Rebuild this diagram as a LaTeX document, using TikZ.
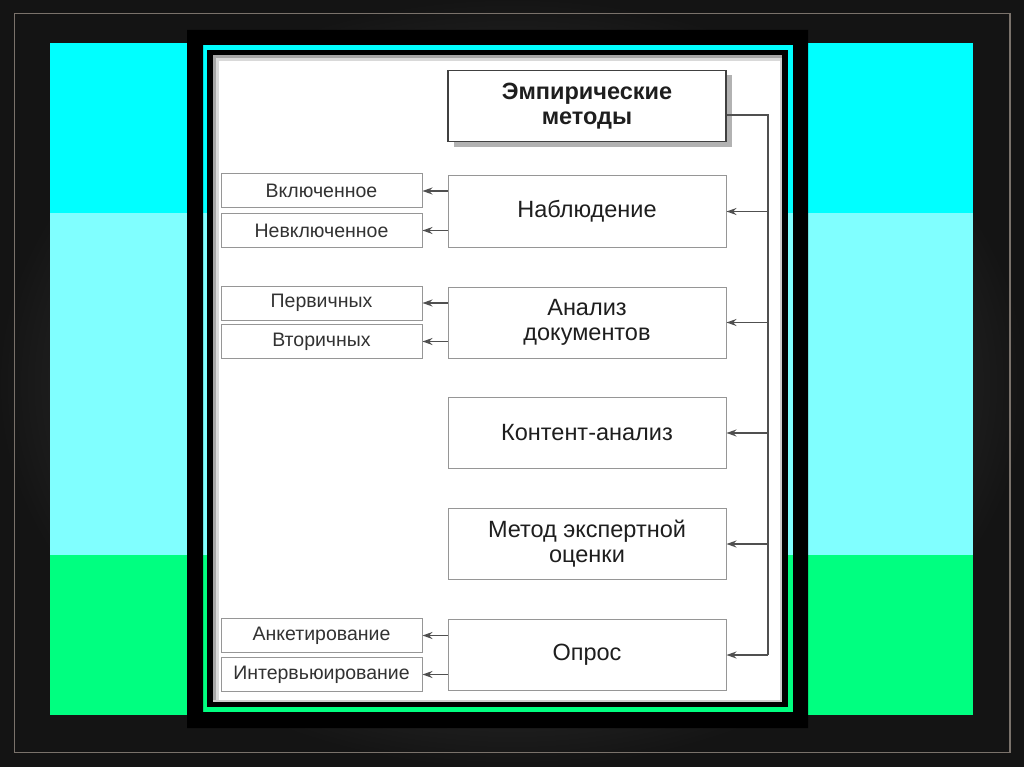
\documentclass[tikz,border=0pt]{standalone}
\usepackage{fontspec}
\setmainfont{Liberation Sans}
\usetikzlibrary{arrows.meta}
\definecolor{bandA}{RGB}{0,255,255}
\definecolor{bandB}{RGB}{128,255,255}
\definecolor{bandC}{RGB}{0,255,128}
\definecolor{frameln}{RGB}{122,114,107}
\definecolor{boxln}{RGB}{150,150,150}
\definecolor{conn}{RGB}{80,80,80}
\definecolor{txt}{RGB}{30,30,30}
\definecolor{subtxt}{RGB}{50,50,50}
\begin{document}
\begin{tikzpicture}[x=1pt,y=-1pt,
  mainbox/.style={draw=boxln,line width=1pt,fill=white,minimum width=278pt,minimum height=71pt,
    inner sep=0pt,align=center,text=txt,font=\fontsize{23.5}{25}\selectfont},
  topbox/.style={mainbox,draw=black!75,line width=1.2pt,font=\fontsize{23.5}{25}\selectfont\bfseries},
  subbox/.style={draw=boxln,line width=1pt,fill=white,minimum width=201pt,minimum height=34pt,
    inner sep=0pt,align=center,text=subtxt,font=\fontsize{19.5}{21}\selectfont},
  conline/.style={draw=conn,line width=1.4pt},
  arr/.style={conline,-{Stealth[length=10pt,width=7pt]}}]
\useasboundingbox (0,0) rectangle (1024,767);
% background
\shade[inner color=black!62,outer color=black!92] (0,0) rectangle (1024,767);
\draw[frameln,line width=1.6pt] (14.5,13.5) rectangle (1010,752.5);
% colour bands
\fill[bandA] (50,43) rectangle (973,213);
\fill[bandB] (50,213) rectangle (973,555);
\fill[bandC] (50,555) rectangle (973,715);
% black panel with transparent strip
\fill[black,even odd rule] (187,30) rectangle (808,728) (203,45) rectangle (793,712);
\fill[black] (207,50) rectangle (788,707);
\fill[white] (213,55) rectangle (782,702);
\fill[black!35] (213,55) rectangle (216,702);
\fill[black!35] (213,55) rectangle (782,58);
\fill[black!15] (216,58) rectangle (219,702);
\fill[black!15] (216,58) rectangle (782,61);
\fill[black!20] (780,58) rectangle (782,702);
\fill[black!20] (213,700) rectangle (782,702);
% shadow of top box
\fill[black!30] (454,75) rectangle (732,147);
% main boxes
\node[topbox] (emp) at (587,106) {Эмпирические\\методы};
\node[mainbox] (nab) at (587,211.5) {Наблюдение};
\node[mainbox] (doc) at (587,322.5) {Анализ\\документов};
\node[mainbox] (kon) at (587,433) {Контент-анализ};
\node[mainbox] (eks) at (587,544) {Метод экспертной\\оценки};
\node[mainbox] (opr) at (587,655) {Опрос};
% sub boxes
\node[subbox] (vkl) at (321.5,191) {Включенное};
\node[subbox] (nvk) at (321.5,230.5) {Невключенное};
\node[subbox] (per) at (321.5,303) {Первичных};
\node[subbox] (vto) at (321.5,341.5) {Вторичных};
\node[subbox] (ank) at (321.5,635.5) {Анкетирование};
\node[subbox] (int) at (321.5,674.5) {Интервьюирование};
% trunk
\coordinate (ttop) at (768,115);
\coordinate (tbot) at (768,655);
\draw[conline] ([yshift=-9pt]emp.east) -- (ttop) -- (tbot);
\foreach \b in {nab,doc,kon,eks,opr}
  \draw[arr] (ttop |- \b) -- (\b.east);
% left branches
\draw[arr] (nab.west |- vkl) -- (vkl.east);
\draw[arr] (nab.west |- nvk) -- (nvk.east);
\draw[arr] (doc.west |- per) -- (per.east);
\draw[arr] (doc.west |- vto) -- (vto.east);
\draw[arr] (opr.west |- ank) -- (ank.east);
\draw[arr] (opr.west |- int) -- (int.east);
\end{tikzpicture}
\end{document}
